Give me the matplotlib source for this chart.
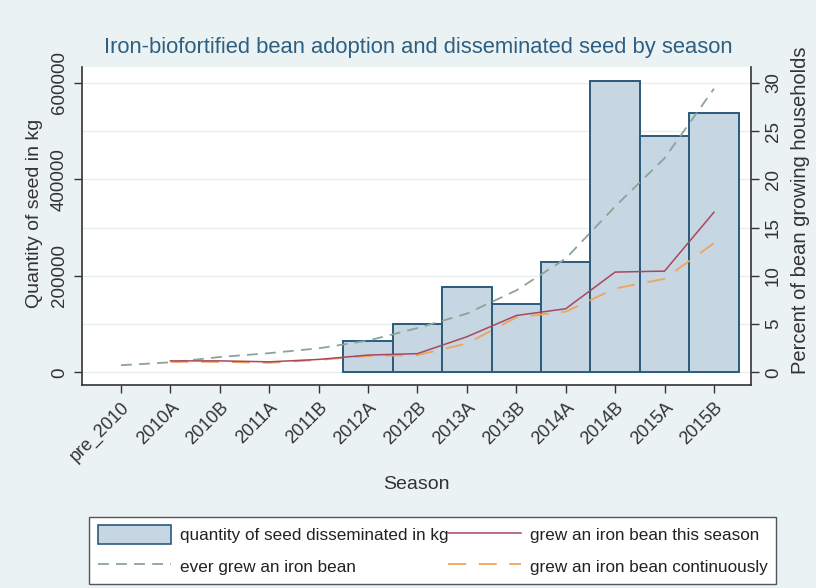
import numpy as np
import matplotlib
matplotlib.use("Agg")
import matplotlib.pyplot as plt
from matplotlib.patches import Patch
from matplotlib.lines import Line2D

seasons = ['pre_2010', '2010A', '2010B', '2011A', '2011B', '2012A', '2012B',
           '2013A', '2013B', '2014A', '2014B', '2015A', '2015B']
seed_kg = [np.nan, np.nan, np.nan, np.nan, np.nan, 65000, 100500, 178000,
           142500, 228500, 603000, 490000, 538500]
ever_grew = [0.75, 1.05, 1.6, 2.0, 2.5, 3.3, 4.6, 6.1, 8.5, 11.8, 17.2, 22.2, 29.4]
grew_this_season = [np.nan, 1.2, 1.2, 1.1, 1.35, 1.8, 1.95, 3.7, 5.9, 6.6, 10.4, 10.5, 16.6]
grew_continuously = [np.nan, 1.1, 1.1, 1.0, 1.3, 1.7, 1.8, 3.0, 5.7, 6.3, 8.7, 9.7, 13.4]

left_ticks = [0, 200000, 400000, 600000]
right_ticks = [0, 5, 10, 15, 20, 25, 30]

BG = '#eaf2f3'
BAR_FILL = '#c6d6e2'
BAR_EDGE = '#2a5a7c'
EVER_C = '#8aa497'
RED_C = '#a8485e'
ORANGE_C = '#f0a45a'
TITLE_C = '#2e5f82'
AX_C = '#333333'

regular = ['Liberation Sans', 'DejaVu Sans']
plt.rcParams['font.family'] = regular

fig = plt.figure(figsize=(8.16, 5.88), dpi=100, facecolor=BG)
ax = fig.add_axes([82/816, 1-385/588, (751-82)/816, (385-67)/588])
ax.set_facecolor('white')
x = np.arange(len(seasons))

# gridlines aligned to right-axis ticks (left scale = pct * 20000)
for t in right_ticks:
    ax.axhline(t*20000, color='#e6eeef', lw=0.9, zorder=0)

ax.bar(x, seed_kg, width=1.0, color=BAR_FILL, edgecolor=BAR_EDGE, linewidth=1.4, zorder=2)
ax.set_xlim(-0.79, 12.75)
ax.set_ylim(-26000, 633000)
ax.set_yticks(left_ticks)
ax.set_yticklabels([str(v) for v in left_ticks], rotation=90, va='center', fontsize=13.5, color=AX_C)
ax.set_xticks(x)
ax.set_xticklabels(seasons, rotation=45, ha='right', rotation_mode='anchor', fontsize=13, color=AX_C)
ax.tick_params(axis='both', direction='out', length=6, width=1, color=AX_C, pad=4)
ax.set_ylabel('Quantity of seed in kg', fontsize=14, color=AX_C)
ax.yaxis.set_label_coords(-0.058, 0.54)
ax.set_xlabel('Season', fontsize=14, color=AX_C, labelpad=8)
for s in ['left', 'bottom']:
    ax.spines[s].set_color(AX_C)
    ax.spines[s].set_linewidth(1.2)
ax.spines['top'].set_visible(False)
ax.spines['right'].set_visible(False)

ax2 = ax.twinx()
ax2.set_ylim(-1.3, 31.65)
ax2.set_yticks(right_ticks)
ax2.set_yticklabels([str(v) for v in right_ticks], rotation=90, va='center', fontsize=13.5, color=AX_C)
ax2.tick_params(axis='y', direction='out', length=6, width=1, color=AX_C, pad=4)
ax2.set_ylabel('Percent of bean growing households', fontsize=14.5, color=AX_C)
ax2.yaxis.set_label_coords(1.06, 0.55)
ax2.spines['right'].set_color(AX_C)
ax2.spines['right'].set_linewidth(1.2)
ax2.spines['top'].set_visible(False)
ax2.spines['left'].set_visible(False)
ax2.spines['bottom'].set_visible(False)

ax2.plot(x, ever_grew, color=EVER_C, lw=1.3, dashes=(6, 4))
ax2.plot(x, grew_continuously, color=ORANGE_C, lw=1.3, dashes=(10, 7))
ax2.plot(x, grew_this_season, color=RED_C, lw=1.1)

fig.text(418/816, 1-47/588, 'Iron-biofortified bean adoption and disseminated seed by season',
         ha='center', va='center', fontsize=15.8, color=TITLE_C)

handles = [Patch(facecolor=BAR_FILL, edgecolor=BAR_EDGE, linewidth=1.2),
           Line2D([], [], color=EVER_C, lw=1.3, dashes=(6, 4)),
           Line2D([], [], color=RED_C, lw=1.1),
           Line2D([], [], color=ORANGE_C, lw=1.3, dashes=(10, 7))]
labels = ['quantity of seed disseminated in kg', 'ever grew an iron bean',
          'grew an iron bean this season', 'grew an iron bean continuously']
leg = fig.legend(handles, labels, ncol=2, loc='lower left',
                 bbox_to_anchor=(89/816, 1-584/588, (776-89)/816, 65/588),
                 mode='expand', frameon=True, fancybox=False, edgecolor='#555555',
                 facecolor='white', framealpha=1, handlelength=4.3, handleheight=1.3,
                 handletextpad=0.5, labelspacing=0.75, borderpad=0.5,
                 prop={'size': 12.3}, borderaxespad=0, columnspacing=0.3)
leg.get_frame().set_linewidth(1.0)
for t in leg.get_texts():
    t.set_color('#222222')

fig.savefig('out.png', dpi=100, facecolor=BG)
